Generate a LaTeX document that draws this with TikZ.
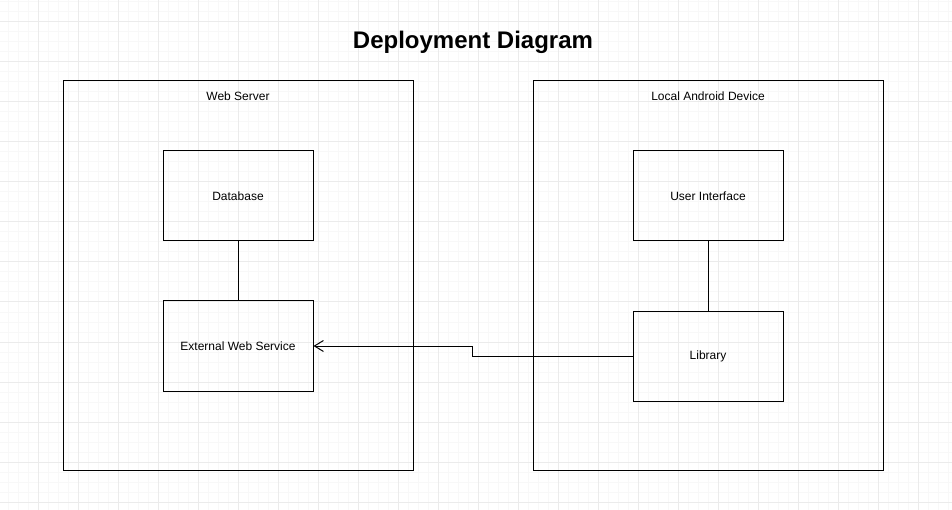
\documentclass[tikz,border=0pt]{standalone}
\usepackage{fontspec}
\setmainfont{Liberation Sans}
\usetikzlibrary{arrows.meta}
\definecolor{gridminor}{HTML}{F8F8F8}
\definecolor{gridmajor}{HTML}{EBEBEB}
\tikzset{
  box/.style={draw=black, line width=1pt, fill=none, inner sep=0pt, minimum width=150pt, minimum height=90pt, font=\fontsize{12pt}{14pt}\selectfont},
  container/.style={draw=black, line width=1pt, inner sep=0pt, minimum width=350pt, minimum height=389pt},
  clabel/.style={font=\fontsize{12pt}{14pt}\selectfont, inner sep=0pt},
  conn/.style={draw=black, line width=1pt},
  arr/.style={conn, -{Straight Barb[length=9pt,width=11pt,line width=1pt]}}
}
\begin{document}
\begin{tikzpicture}[x=1pt,y=-1pt]
\useasboundingbox[fill=white] (0,0) rectangle (952,510);
% grid
\foreach \i in {8,18,...,948} \draw[gridminor, line width=1pt] (\i,0) -- (\i,510);
\foreach \j in {2,12,...,502} \draw[gridminor, line width=1pt] (0,\j) -- (952,\j);
\foreach \i in {38,78,...,948} \draw[gridmajor, line width=1pt] (\i,0) -- (\i,510);
\foreach \j in {22,62,...,502} \draw[gridmajor, line width=1pt] (0,\j) -- (952,\j);
% title
\node[font=\bfseries\fontsize{24pt}{28pt}\selectfont, inner sep=0pt] (title) at (473,42) {Deployment Diagram};
% containers
\node[container] (web) at (238,275.5) {};
\node[clabel] (weblabel) at (238,96.5) {Web Server};
\node[container] (android) at (708,275.5) {};
\node[clabel] (androidlabel) at (708,96.5) {Local Android Device};
% boxes
\node[box] (db) at (238,196) {\raisebox{-1pt}{Database}};
\node[box] (ews) at (238,346) {\raisebox{-1pt}{External Web Service}};
\node[box] (ui) at (708,196) {\raisebox{-1pt}{User Interface}};
\node[box] (lib) at (708,356) {\raisebox{-1pt}{Library}};
% connectors
\draw[conn] (db.south) -- (ews.north);
\draw[conn] (ui.south) -- (lib.north);
\draw[arr] (lib.west) -- ++(-160,0) |- (ews.east);
\end{tikzpicture}
\end{document}
